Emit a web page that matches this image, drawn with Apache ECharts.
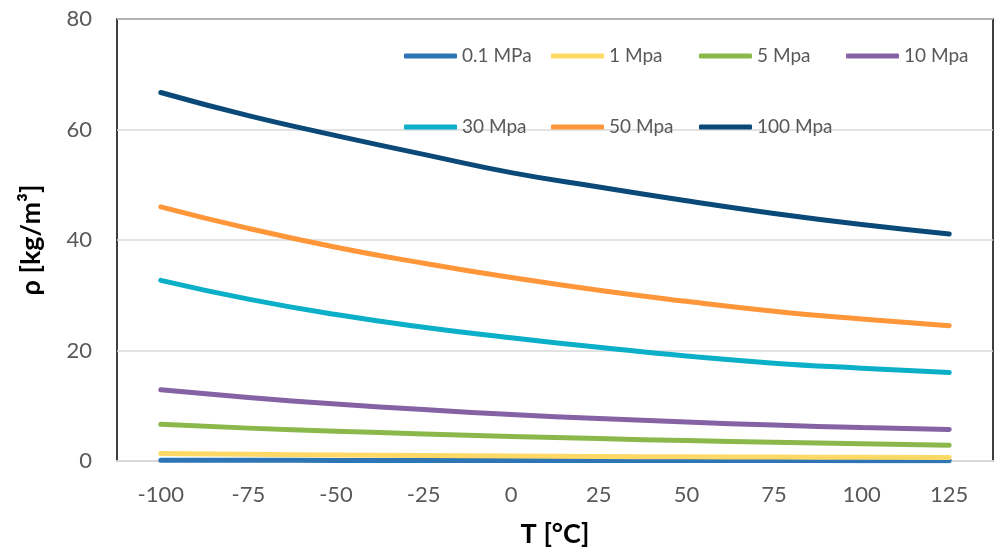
<!DOCTYPE html>
<html>
<head>
<meta charset="utf-8">
<script src="https://cdn.jsdelivr.net/npm/echarts@6/dist/echarts.min.js"></script>
<style>
html,body{margin:0;padding:0;background:#fff;}
#chart{width:995px;height:554px;}
</style>
</head>
<body>
<div id="chart"></div>
<script>
const categories = ['-100','-75','-50','-25','0','25','50','75','100','125'];
const seriesNames = ['0.1 MPa','1 Mpa','5 Mpa','10 Mpa','30 Mpa','50 Mpa','100 Mpa'];
const p01  = [0.14, 0.125, 0.11, 0.10, 0.09, 0.083, 0.077, 0.072, 0.067, 0.063];
const p1   = [1.35, 1.20, 1.08, 0.98, 0.90, 0.82, 0.76, 0.71, 0.66, 0.62];
const p5   = [6.65, 5.95, 5.40, 4.90, 4.45, 4.05, 3.70, 3.40, 3.10, 2.85];
const p10  = [12.9, 11.5, 10.3, 9.3, 8.4, 7.7, 7.05, 6.5, 6.05, 5.7];
const p30  = [32.7, 29.3, 26.5, 24.2, 22.3, 20.6, 19.0, 17.7, 16.8, 16.0];
const p50  = [46.0, 42.1, 38.7, 35.8, 33.2, 30.9, 28.9, 27.1, 25.7, 24.5];
const p100 = [66.7, 62.5, 58.9, 55.5, 52.2, 49.6, 47.1, 44.8, 42.8, 41.1];
const seriesData = [p01, p1, p5, p10, p30, p50, p100];
const colors = ['#2E75B6','#FFD966','#8BB84B','#8462A4','#0BAFC7','#FF963A','#0B4A78'];
const yTicks = {min: 0, max: 80, interval: 20};

const FONT = 'Lato';
const legendPos = [
  {left: 404, top: 46}, {left: 551, top: 46}, {left: 699, top: 46}, {left: 846, top: 46},
  {left: 404, top: 117}, {left: 551, top: 117}, {left: 699, top: 117}
];

const chart = echarts.init(document.getElementById('chart'), null, {renderer: 'canvas'});
const option = {
  animation: false,
  textStyle: {fontFamily: FONT},
  color: colors,
  grid: {
    left: 117, right: 2, top: 19, bottom: 93,
    show: true, borderColor: '#000', borderWidth: 1.5, backgroundColor: 'transparent'
  },
  legend: seriesNames.map((n, i) => ({
    data: [n],
    left: legendPos[i].left,
    top: legendPos[i].top,
    padding: 0,
    icon: 'roundRect',
    itemWidth: 53,
    itemHeight: 5,
    itemGap: 0,
    textStyle: {fontFamily: FONT, fontSize: 19, color: '#595959', lineHeight: 20}
  })),
  xAxis: {
    type: 'category',
    data: categories,
    boundaryGap: true,
    axisTick: {show: false},
    axisLine: {show: true, lineStyle: {color: '#D9D9D9', width: 2}},
    axisLabel: {fontFamily: FONT, fontSize: 22, color: '#595959', margin: 23},
    name: 'T [°C]',
    nameLocation: 'middle',
    nameGap: 60,
    nameTextStyle: {fontFamily: FONT, fontSize: 27, fontWeight: 'bold', color: '#000'}
  },
  yAxis: {
    type: 'value',
    min: yTicks.min, max: yTicks.max, interval: yTicks.interval,
    axisLine: {show: false},
    axisTick: {show: false},
    splitLine: {show: true, lineStyle: {color: '#D9D9D9', width: 1.5}},
    axisLabel: {fontFamily: FONT, fontSize: 22, color: '#595959', margin: 25},
    name: 'ρ [kg/m³]',
    nameLocation: 'middle',
    nameGap: 72,
    nameTextStyle: {fontFamily: FONT, fontSize: 27, fontWeight: 'bold', color: '#000'}
  },
  series: seriesNames.map((n, i) => ({
    name: n,
    type: 'line',
    data: seriesData[i],
    smooth: true,
    showSymbol: false,
    symbol: 'none',
    lineStyle: {width: 5, color: colors[i], cap: 'round', join: 'round'},
    itemStyle: {color: colors[i]}
  }))
};
chart.setOption(option);
</script>
</body>
</html>
